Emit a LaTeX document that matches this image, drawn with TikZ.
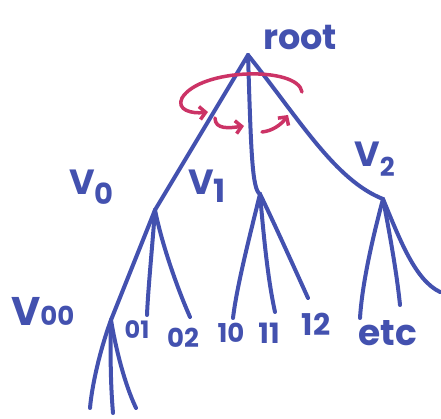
\documentclass[tikz,border=0pt]{standalone}
\usepackage{fontspec}
\setmainfont{Poppins}
\usetikzlibrary{arrows.meta}
\definecolor{ink}{RGB}{67,81,175}
\definecolor{pen}{RGB}{204,51,102}
\newcommand{\fs}[1]{\fontsize{#1}{#1}\selectfont}
\begin{document}
\begin{tikzpicture}[x=1pt,y=-1pt, line cap=round, line join=round,
  edge/.style={draw=ink, line width=4pt},
  spin/.style={draw=pen, line width=3.5pt, -{Straight Barb[length=6pt,width=13pt]}},
  lbl/.style={text=ink, inner sep=0pt}]
\useasboundingbox (0,0) rectangle (441,419);
% tree vertices
\coordinate (root) at (248,55);
\coordinate (v0) at (155,210);
\coordinate (v1) at (260,194);
\coordinate (v2) at (383,199);
\coordinate (v00) at (111,320);
\coordinate (c01) at (147,315);
\coordinate (c02) at (190,317);
\coordinate (c10) at (233,318);
\coordinate (c11) at (275,312);
\coordinate (c12) at (308,298);
\coordinate (e1) at (360,318);
\coordinate (e2) at (400,305);
\coordinate (e3) at (440,292);
\coordinate (d1) at (90,408);
\coordinate (d2) at (113,413);
\coordinate (d3) at (136,408);
% edges
\draw[edge] (root) -- (v0);
\draw[edge] (root) .. controls (251,150) and (252,190) .. (v1);
\draw[edge] (root) .. controls (300,120) and (335,180) .. (v2);
\draw[edge] (v0) -- (v00);
\draw[edge] (v0) .. controls (152,250) and (148,290) .. (c01);
\draw[edge] (v0) .. controls (162,245) and (178,290) .. (c02);
\draw[edge] (v00) .. controls (100,350) and (92,385) .. (d1);
\draw[edge] (v00) .. controls (110,360) and (111,390) .. (d2);
\draw[edge] (v00) .. controls (116,350) and (125,385) .. (d3);
\draw[edge] (v1) .. controls (250,235) and (237,285) .. (c10);
\draw[edge] (v1) .. controls (264,240) and (268,280) .. (c11);
\draw[edge] (v1) .. controls (275,225) and (293,265) .. (c12);
\draw[edge] (v2) .. controls (372,240) and (362,285) .. (e1);
\draw[edge] (v2) .. controls (390,235) and (397,275) .. (e2);
\draw[edge] (v2) .. controls (400,240) and (415,280) .. (e3);
% rotation arrows
\coordinate (a1s) at (302,92);
\coordinate (a1e) at (208,112);
\coordinate (a2s) at (215,118);
\coordinate (a2e) at (244,126);
\coordinate (a3s) at (262,132);
\coordinate (a3e) at (288,115);
\draw[spin] (a1s) .. controls (298,66) and (200,68) .. (182,98) .. controls (176,110) and (192,114) .. (a1e);
\draw[spin] (a2s) .. controls (215,130) and (230,128) .. (a2e);
\draw[spin] (a3s) .. controls (272,131) and (281,125) .. (a3e);
% labels
\node[lbl, anchor=base, font=\fs{35}\bfseries] (rootlbl) at (300,50) {root};
\node[lbl, anchor=base west, font=\fs{35}\bfseries] (v0lbl) at (69,195) {V\raisebox{-10pt}{\fs{29}0}};
\node[lbl, anchor=base west, font=\fs{35}\bfseries] (v1lbl) at (188,195) {V\raisebox{-8pt}{\fs{32}1}};
\node[lbl, anchor=base west, font=\fs{35}\bfseries] (v2lbl) at (354,167) {V\raisebox{-10pt}{\fs{26}2}};
\node[lbl, anchor=base west, font=\fs{40}\bfseries] (v00lbl) at (11,325) {V{\fs{26}00}};
\node[lbl, anchor=base, font=\fs{24}\bfseries] (l01) at (137,338) {01};
\node[lbl, anchor=base, font=\fs{26}\bfseries] (l02) at (183,347) {02};
\node[lbl, anchor=base, font=\fs{26}\bfseries] (l10) at (231,342) {10};
\node[lbl, anchor=base, font=\fs{28}\bfseries] (l11) at (269,343) {11};
\node[lbl, anchor=base, font=\fs{30}\bfseries] (l12) at (316,335) {12};
\node[lbl, anchor=base, font=\fs{36}\bfseries] (letc) at (388,345) {etc};
\end{tikzpicture}
\end{document}
